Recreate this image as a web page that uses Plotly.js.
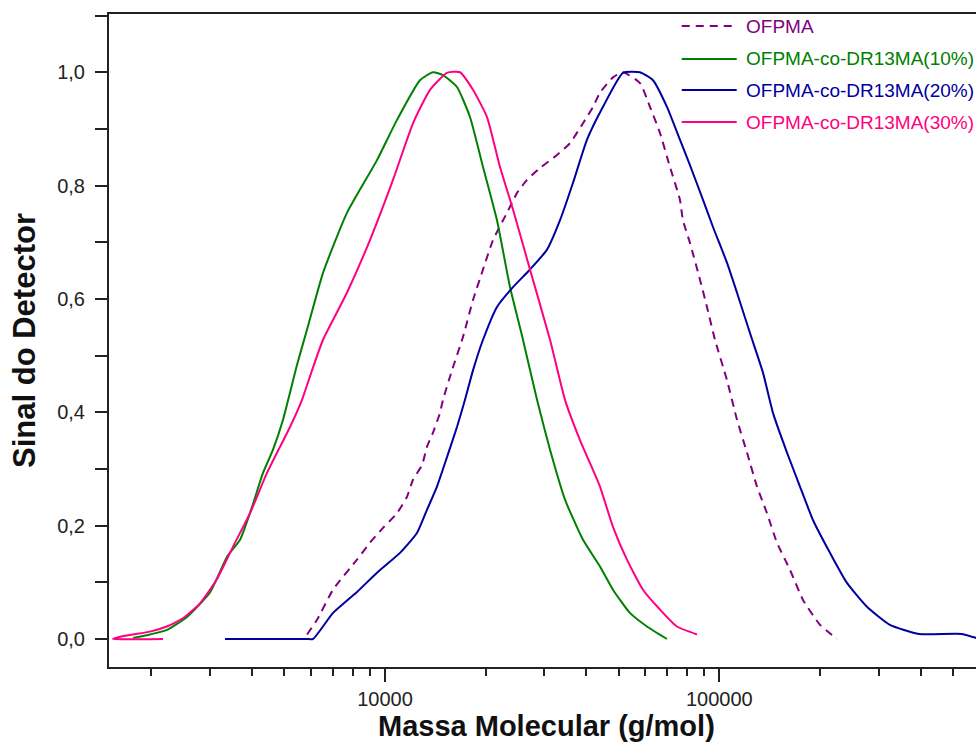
<!DOCTYPE html>
<html>
<head>
<meta charset="utf-8">
<script src="https://cdn.plot.ly/plotly-3.0.1.min.js"></script>
<style>html,body{margin:0;padding:0;background:#fff;}#chart{width:976px;height:749px;}</style>
</head>
<body>
<div id="chart"></div>
<script>
// ---- data (molecular mass in g/mol, normalised detector signal) ----
const seriesNames = ['OFPMA', 'OFPMA-co-DR13MA(10%)', 'OFPMA-co-DR13MA(20%)', 'OFPMA-co-DR13MA(30%)'];
const seriesColors = ['#800080', '#008000', '#0000A0', '#FF0080'];

const ofpmaM = [5846, 6262, 6992, 8245, 9018, 9862, 10862, 11636, 12128, 12903, 13354, 13919, 14604, 14910, 15862, 17112, 18333, 19645, 21045, 23171, 24823, 26597, 29094, 32705, 35770, 39119, 41907, 43973, 48084, 51505, 57906, 62036, 66463, 71194, 76266, 77862, 81713, 87561, 91884, 97075, 105436, 112980, 121043, 129664, 138905, 148805, 162773, 178009, 200108, 224984];
const ofpmaS = [0.008, 0.034, 0.087, 0.140, 0.170, 0.196, 0.222, 0.251, 0.281, 0.307, 0.339, 0.364, 0.399, 0.422, 0.474, 0.533, 0.598, 0.652, 0.704, 0.752, 0.787, 0.810, 0.831, 0.854, 0.875, 0.910, 0.939, 0.964, 0.991, 1.000, 0.981, 0.939, 0.893, 0.833, 0.775, 0.739, 0.699, 0.634, 0.586, 0.528, 0.457, 0.387, 0.329, 0.269, 0.222, 0.170, 0.122, 0.069, 0.025, 0.000];

const co10M = [1763, 1982, 2228, 2557, 2996, 3369, 3684, 4002, 4316, 4624, 4954, 5457, 5846, 6526, 7695, 9465, 10862, 12726, 13919, 14910, 16419, 17959, 19645, 21630, 23656, 25873, 28497, 31167, 34555, 39119, 43973, 48084, 54055, 60764, 69748];
const co10S = [0.002, 0.008, 0.016, 0.039, 0.082, 0.145, 0.175, 0.233, 0.293, 0.334, 0.387, 0.484, 0.546, 0.646, 0.752, 0.845, 0.916, 0.986, 1.000, 0.995, 0.974, 0.921, 0.833, 0.739, 0.621, 0.528, 0.422, 0.334, 0.246, 0.175, 0.128, 0.087, 0.046, 0.022, 0.000];

const co20M = [3322, 5000, 5800, 6091, 6992, 8245, 9465, 11089, 12465, 13354, 14305, 15327, 16419, 17350, 18333, 19645, 21630, 24151, 27151, 30530, 33390, 36519, 40214, 44894, 51505, 57906, 63335, 69748, 76266, 81713, 89396, 95765, 105436, 112980, 123552, 135120, 144751, 159437, 174355, 190669, 214418, 240996, 276548, 323970, 395720, 532130, 600000];
const co20S = [0.000, 0.000, 0.000, 0.000, 0.046, 0.083, 0.117, 0.152, 0.187, 0.228, 0.269, 0.321, 0.374, 0.422, 0.474, 0.528, 0.586, 0.621, 0.652, 0.687, 0.739, 0.805, 0.881, 0.939, 0.999, 1.000, 0.986, 0.939, 0.881, 0.836, 0.775, 0.727, 0.664, 0.611, 0.540, 0.470, 0.399, 0.329, 0.269, 0.210, 0.152, 0.099, 0.057, 0.025, 0.009, 0.009, 0.000];

const co30M = [2167, 1536, 1612, 1763, 1982, 2223, 2492, 2797, 3138, 3511, 3947, 4436, 4852, 5198, 5647, 6049, 6526, 7695, 9018, 10566, 12128, 13634, 15327, 16763, 18333, 20192, 22083, 24151, 27151, 31167, 34555, 38317, 42490, 43973, 48084, 52946, 59117, 66463, 74712, 85766];
const co30S = [0.000, 0.000, 0.004, 0.008, 0.013, 0.022, 0.037, 0.063, 0.105, 0.163, 0.222, 0.293, 0.339, 0.374, 0.422, 0.474, 0.528, 0.611, 0.704, 0.810, 0.910, 0.969, 0.999, 1.000, 0.969, 0.921, 0.833, 0.758, 0.652, 0.528, 0.422, 0.351, 0.290, 0.269, 0.198, 0.140, 0.087, 0.052, 0.022, 0.008];

const xTickVals = [10000, 100000];
const xTickText = ['10000', '100000'];
const yTickVals = [0, 0.2, 0.4, 0.6, 0.8, 1.0];
const yTickText = ['0,0', '0,2', '0,4', '0,6', '0,8', '1,0'];
const xTitle = 'Massa Molecular (g/mol)';
const yTitle = 'Sinal do Detector';

// ---- traces ----
const xs = [ofpmaM, co10M, co20M, co30M];
const ys = [ofpmaS, co10S, co20S, co30S];
const traces = xs.map((x, i) => ({
  type: 'scatter', mode: 'lines', x: x, y: ys[i], name: seriesNames[i],
  line: {color: seriesColors[i], width: 2, dash: i === 0 ? '8px,6px' : 'solid', shape: 'spline', smoothing: 0.5},
  showlegend: false, hoverinfo: 'x+y'
}));

// ---- manual legend (top right, as in the original) ----
const legX0 = 0.6606, legX1 = 0.7240, legTextX = 0.7324;
const legRows = [0.9816, 0.9311, 0.8836, 0.8346];
const shapes = legRows.map((yy, i) => ({
  type: 'line', xref: 'paper', yref: 'paper', x0: legX0, x1: legX1, y0: yy, y1: yy,
  line: {color: seriesColors[i], width: 2, dash: i === 0 ? '8px,6px' : 'solid'}
}));
const annotations = legRows.map((yy, i) => ({
  xref: 'paper', yref: 'paper', x: legTextX, y: yy, xanchor: 'left', yanchor: 'middle',
  text: seriesNames[i], showarrow: false,
  font: {family: 'Liberation Sans, Arial, sans-serif', size: 19, color: seriesColors[i]}
}));
// x-axis title (placed as an annotation for exact vertical position)
annotations.push({
  xref: 'paper', yref: 'paper', x: 0.505, y: -0.0904, xanchor: 'center', yanchor: 'middle',
  text: '<b>' + xTitle + '</b>', showarrow: false,
  font: {family: 'Liberation Sans, Arial, sans-serif', size: 29, color: '#111'}
});

const axisFont = {family: 'Liberation Sans, Arial, sans-serif', size: 20, color: '#222'};
const layout = {
  width: 976, height: 749,
  margin: {l: 109, r: 0, t: 14, b: 82},
  paper_bgcolor: '#ffffff', plot_bgcolor: '#ffffff',
  xaxis: {
    type: 'log', range: [3.1744, 5.768],
    tickmode: 'array', tickvals: xTickVals, ticktext: xTickText,
    ticks: 'outside', ticklen: 13, tickwidth: 2, tickcolor: '#222',
    showline: true, linewidth: 2, linecolor: '#222', mirror: true,
    showgrid: false, zeroline: false,
    minor: {tickmode: 'linear', dtick: 'D1', ticks: 'outside', ticklen: 7, tickwidth: 2, tickcolor: '#222', showgrid: false},
    tickfont: axisFont
  },
  yaxis: {
    range: [-0.0494, 1.1028],
    tickmode: 'array', tickvals: yTickVals, ticktext: yTickText,
    ticks: 'outside', ticklen: 12, tickwidth: 2, tickcolor: '#222',
    showline: true, linewidth: 2, linecolor: '#222',
    showgrid: false, zeroline: false,
    minor: {tickmode: 'linear', tick0: 0, dtick: 0.1, ticks: 'outside', ticklen: 12, tickwidth: 2, tickcolor: '#222', showgrid: false},
    tickfont: axisFont, ticklabelstandoff: 6,
    title: {text: '<b>' + yTitle + '</b>', font: {family: 'Liberation Sans, Arial, sans-serif', size: 31, color: '#111'}, standoff: 12}
  },
  shapes: shapes,
  annotations: annotations,
  showlegend: false
};

Plotly.newPlot('chart', traces, layout, {displayModeBar: false, staticPlot: true});
</script>
</body>
</html>
